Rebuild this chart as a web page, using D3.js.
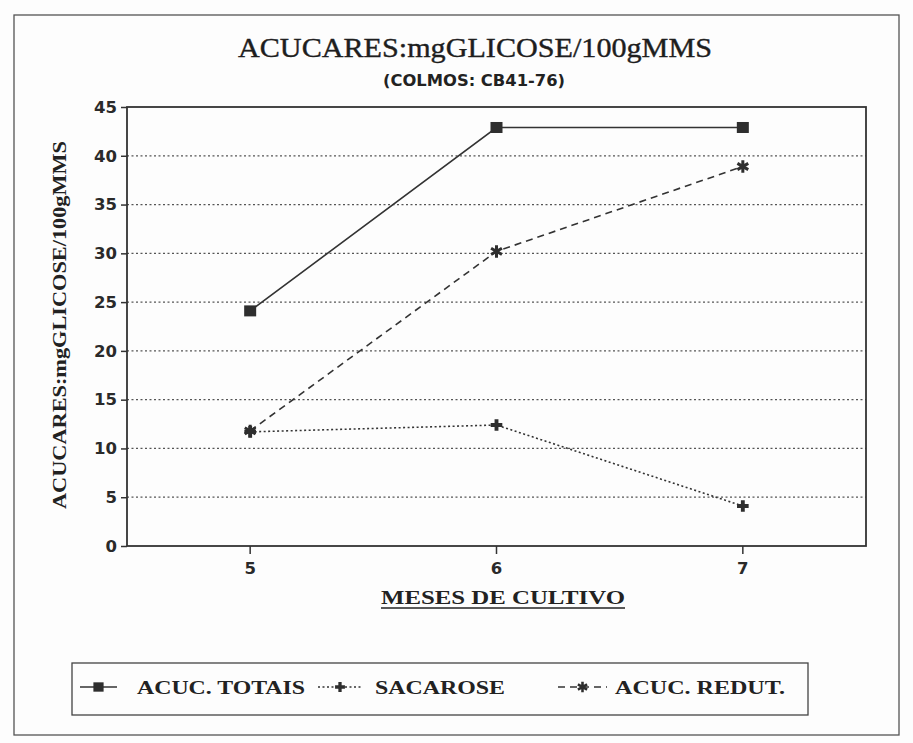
<!DOCTYPE html>
<html><head><meta charset="utf-8">
<script src="https://cdn.jsdelivr.net/npm/d3@7"></script>
<style>body{margin:0;background:#fdfdfd}svg{display:block}</style>
</head><body>
<svg id="c" width="913" height="743"></svg>
<script>
const months = ["5", "6", "7"];
const totais = [24.1, 42.9, 42.9];
const sacarose = [11.7, 12.4, 4.1];
const redut = [11.8, 30.2, 38.9];
const yTicks = [0, 5, 10, 15, 20, 25, 30, 35, 40, 45];
const seriesNames = ["ACUC. TOTAIS", "SACAROSE", "ACUC. REDUT."];
const title = "ACUCARES:mgGLICOSE/100gMMS";
const subtitle = "(COLMOS: CB41-76)";
const yTitle = "ACUCARES:mgGLICOSE/100gMMS";
const xTitle = "MESES DE CULTIVO";

const ink = "#333";
const svg = d3.select("#c");
const m = {left: 127, right: 866, top: 107, bottom: 546};

// outer frame
svg.append("rect").attr("x", 14).attr("y", 15).attr("width", 885).attr("height", 720)
  .attr("fill", "none").attr("stroke", "#555").attr("stroke-width", 1.3);

const x = d3.scaleBand().domain(months).range([m.left, m.right]);
const y = d3.scaleLinear().domain([0, 45]).range([m.bottom, m.top]);
const cx = d => x(d) + x.bandwidth() / 2;

// gridlines
svg.append("g").selectAll("line").data(yTicks.filter(t => t > 0 && t < 45)).join("line")
  .attr("x1", m.left).attr("x2", m.right).attr("y1", d => y(d)).attr("y2", d => y(d))
  .attr("stroke", "#555").attr("stroke-width", 1.2).attr("stroke-dasharray", "2,2.5");

// plot frame
svg.append("rect").attr("x", m.left).attr("y", m.top).attr("width", m.right - m.left).attr("height", m.bottom - m.top)
  .attr("fill", "none").attr("stroke", ink).attr("stroke-width", 1.8);

// y axis
const ya = svg.append("g").attr("transform", `translate(${m.left},0)`)
  .call(d3.axisLeft(y).tickValues(yTicks).tickSize(6).tickPadding(4));
ya.select(".domain").remove();
ya.selectAll("line").attr("stroke", ink).attr("stroke-width", 1.5);
ya.selectAll("text").attr("font-family", "DejaVu Sans").attr("font-weight", "bold")
  .attr("font-size", 16.5).attr("fill", "#2a2a2a");

// x axis
const xa = svg.append("g").attr("transform", `translate(0,${m.bottom})`)
  .call(d3.axisBottom(x).tickSize(8).tickPadding(8));
xa.select(".domain").remove();
xa.selectAll("line").attr("stroke", ink).attr("stroke-width", 1.5);
xa.selectAll("text").attr("font-family", "DejaVu Sans").attr("font-weight", "bold")
  .attr("font-size", 16.5).attr("fill", "#2a2a2a");

// titles
svg.append("text").attr("x", 475).attr("y", 57).attr("text-anchor", "middle")
  .attr("font-family", "Liberation Serif").attr("font-size", 28).attr("fill", "#1e1e1e")
  .attr("stroke", "#1e1e1e").attr("stroke-width", 0.4)
  .attr("textLength", 474).attr("lengthAdjust", "spacingAndGlyphs").text(title);
svg.append("text").attr("x", 474).attr("y", 86).attr("text-anchor", "middle")
  .attr("font-family", "DejaVu Sans").attr("font-weight", "bold").attr("font-size", 15).attr("fill", "#222")
  .attr("textLength", 182).attr("lengthAdjust", "spacingAndGlyphs").text(subtitle);
svg.append("text").attr("transform", "translate(66,325) rotate(-90)").attr("text-anchor", "middle")
  .attr("font-family", "Liberation Serif").attr("font-weight", "bold").attr("font-size", 19).attr("fill", "#222")
  .attr("textLength", 368).attr("lengthAdjust", "spacingAndGlyphs").text(yTitle);
svg.append("text").attr("x", 503).attr("y", 604).attr("text-anchor", "middle")
  .attr("font-family", "Liberation Serif").attr("font-weight", "bold").attr("font-size", 19).attr("fill", "#222")
  .attr("textLength", 244).attr("lengthAdjust", "spacingAndGlyphs").text(xTitle);
svg.append("line").attr("x1", 381).attr("x2", 625).attr("y1", 608).attr("y2", 608)
  .attr("stroke", "#222").attr("stroke-width", 1.5);

// series
const series = [
  {name: seriesNames[0], values: totais, dash: null, sym: "square"},
  {name: seriesNames[1], values: sacarose, dash: "2,2.5", sym: "plus"},
  {name: seriesNames[2], values: redut, dash: "7,5", sym: "star"}
];
const line = d3.line().x((d, i) => cx(months[i])).y(d => y(d));

function drawSymbol(g, sym, px, py, scale) {
  const s = scale || 1;
  if (sym === "square") {
    g.append("rect").attr("x", px - 6 * s).attr("y", py - 5.5 * s).attr("width", 12 * s).attr("height", 11 * s)
      .attr("fill", "#2e2e2e");
  } else if (sym === "plus") {
    g.append("path").attr("d", d3.symbol(d3.symbolCross, 75 * s * s)()).attr("transform", `translate(${px},${py})`)
      .attr("fill", "#2e2e2e");
  } else {
    g.append("path").attr("d", d3.symbol(d3.symbolAsterisk, 110 * s * s)()).attr("transform", `translate(${px},${py})`)
      .attr("fill", "none").attr("stroke", "#2e2e2e").attr("stroke-width", 3 * s);
  }
}

const sg = svg.append("g");
series.forEach(s => {
  sg.append("path").datum(s.values).attr("d", line).attr("fill", "none")
    .attr("stroke", ink).attr("stroke-width", 1.6)
    .attr("stroke-dasharray", s.dash);
});
series.forEach(s => {
  s.values.forEach((v, i) => drawSymbol(sg, s.sym, cx(months[i]), y(v)));
});

// legend
const lg = svg.append("g");
lg.append("rect").attr("x", 72).attr("y", 663).attr("width", 736).attr("height", 52)
  .attr("fill", "none").attr("stroke", "#444").attr("stroke-width", 1.3);
const legendItems = [
  {i: 0, x1: 80, x2: 117, tx: 137, tw: 168},
  {i: 1, x1: 318, x2: 362, tx: 375, tw: 130},
  {i: 2, x1: 558, x2: 607, tx: 615, tw: 170}
];
const ly = 687;
legendItems.forEach(it => {
  const s = series[it.i];
  lg.append("line").attr("x1", it.x1).attr("x2", it.x2).attr("y1", ly).attr("y2", ly)
    .attr("stroke", ink).attr("stroke-width", 1.6).attr("stroke-dasharray", s.dash);
  drawSymbol(lg, s.sym, (it.x1 + it.x2) / 2, ly, 0.85);
  lg.append("text").attr("x", it.tx).attr("y", ly + 7).attr("font-family", "Liberation Serif")
    .attr("font-weight", "bold").attr("font-size", 19).attr("fill", "#222")
    .attr("textLength", it.tw).attr("lengthAdjust", "spacingAndGlyphs").text(s.name);
});
</script>
</body></html>
